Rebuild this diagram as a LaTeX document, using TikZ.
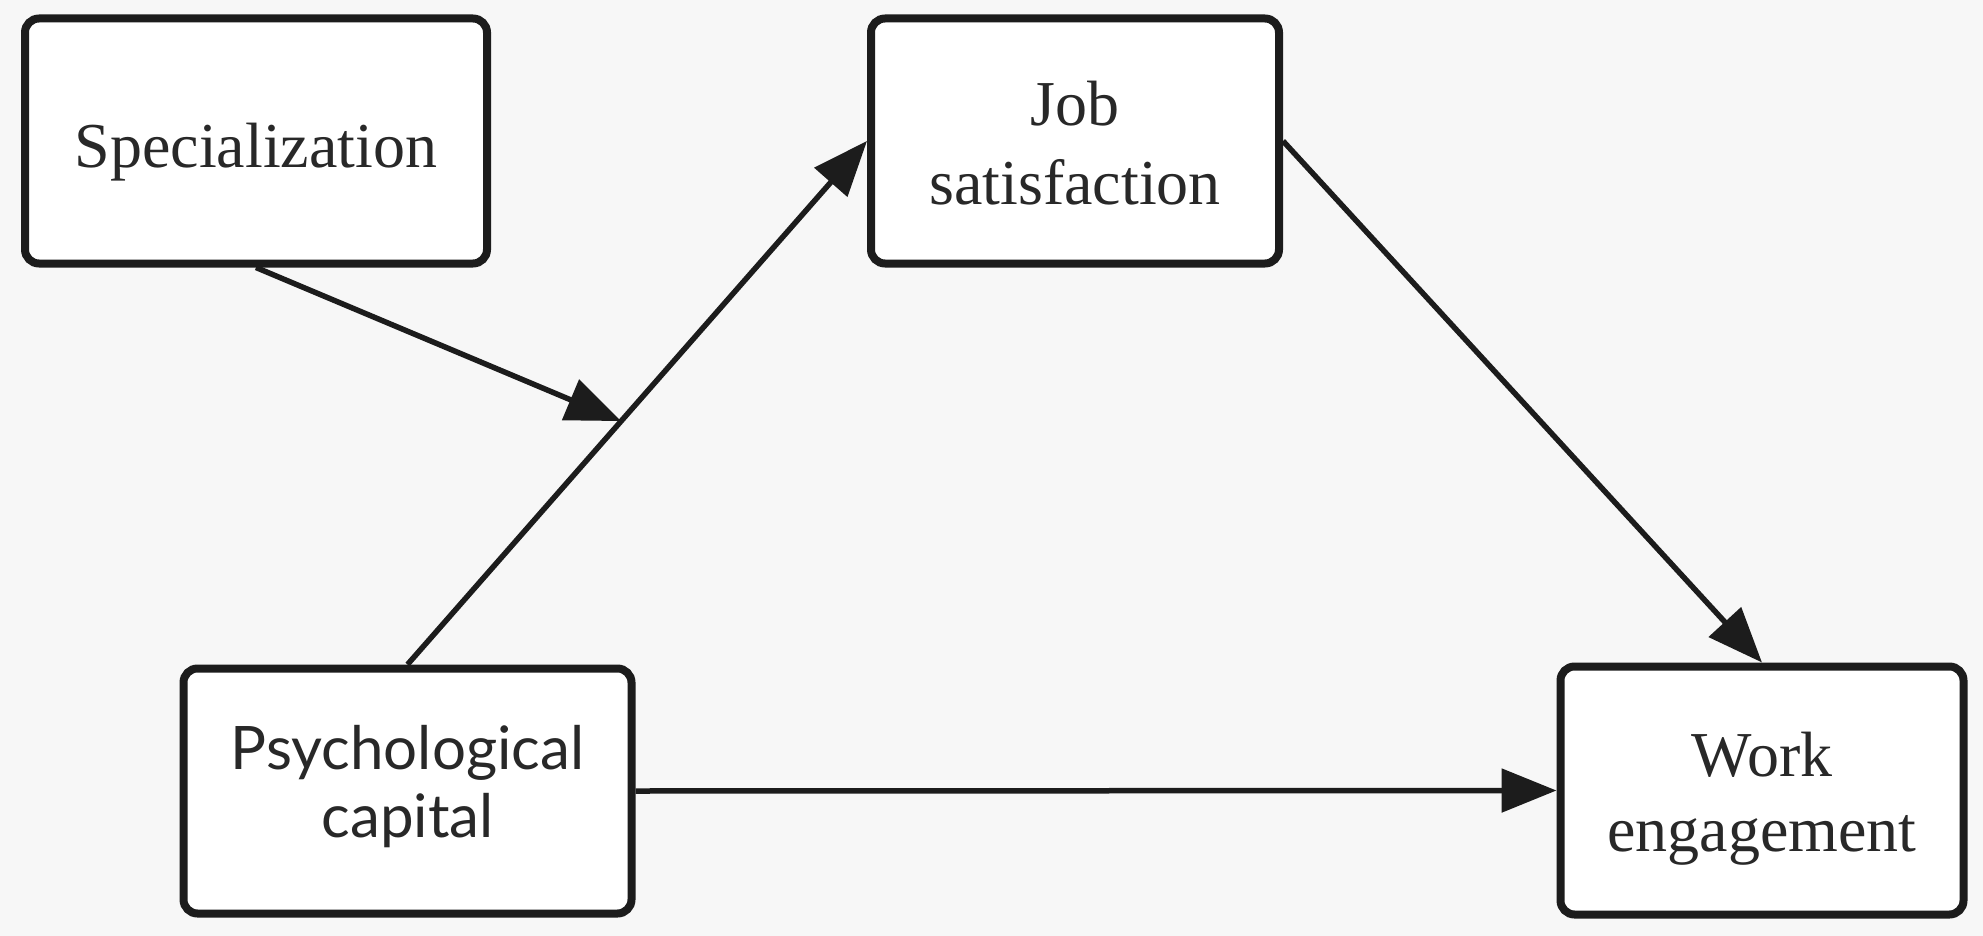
\documentclass[tikz,border=0pt]{standalone}
\usepackage{fontspec}
\setmainfont{Liberation Serif}
\newfontfamily\pcfont{Lato}
\usetikzlibrary{arrows.meta,calc}
\definecolor{bgc}{RGB}{247,247,247}
\definecolor{ink}{RGB}{28,28,28}
\definecolor{txt}{RGB}{40,40,40}
\newcommand{\mytxt}[2]{\raisebox{#1}[0pt][0pt]{\begin{tabular}[t]{@{}c@{}}#2\end{tabular}}}
\begin{document}
\begin{tikzpicture}[x=1pt,y=-1pt,
  box/.style={draw=ink,fill=white,line width=8pt,rounded corners=14pt,
    align=center,inner sep=0pt,text=txt},
  conn/.style={draw=ink,line width=5.5pt,-{Triangle[length=55pt,width=43pt]}}]
\fill[bgc] (0,0) rectangle (1983,936);
\useasboundingbox (0,0) rectangle (1983,936);
\node[box,minimum width=462pt,minimum height=245pt,font=\fontsize{64}{79}\selectfont] (spec) at (256,141) {\mytxt{-27pt}{Specialization}};
\node[box,minimum width=408pt,minimum height=245pt,font=\fontsize{64}{79}\selectfont] (js) at (1075,141) {\mytxt{15pt}{Job\\satisfaction}};
\node[box,minimum width=448pt,minimum height=245pt,font=\pcfont\fontsize{60}{68}\selectfont] (pc) at (407.5,791) {\mytxt{22pt}{Psychological\\capital}};
\node[box,minimum width=403pt,minimum height=248pt,font=\fontsize{64}{75}\selectfont] (we) at (1762,790.5) {\mytxt{14pt}{Work\\engagement}};
\coordinate (m) at ($(pc.north)!0.465!(js.west)$);
\draw[conn] (pc.north) -- (js.west);
\draw[conn] (spec.south) -- (m);
\draw[conn] (js.east) -- (we.north);
\draw[conn] (pc.east) -- (we.west);
\end{tikzpicture}
\end{document}
